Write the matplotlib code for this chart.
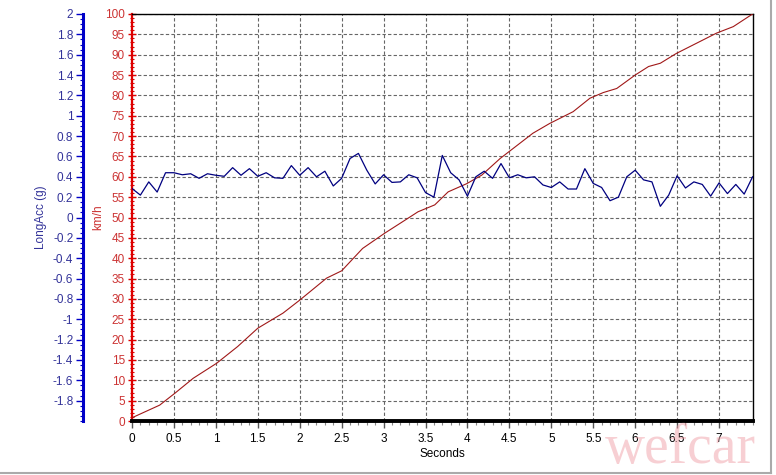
import numpy as np
import matplotlib
matplotlib.use('Agg')
import matplotlib.pyplot as plt
from matplotlib.ticker import MultipleLocator, FuncFormatter

plt.rcParams['font.family'] = ['Liberation Sans', 'DejaVu Sans']

# longitudinal acceleration, sampled every 0.1 s
acc_t = np.round(np.arange(0, 75) * 0.1, 1)
acc_g = [0.285, 0.22, 0.35, 0.25, 0.44, 0.44, 0.42, 0.43, 0.385, 0.43,
         0.415, 0.405, 0.49, 0.415, 0.48, 0.405, 0.44, 0.39, 0.385, 0.51,
         0.415, 0.49, 0.40, 0.455, 0.31, 0.385, 0.58, 0.63, 0.465, 0.33,
         0.42, 0.345, 0.35, 0.42, 0.39, 0.245, 0.20, 0.61, 0.44, 0.37,
         0.21, 0.40, 0.455, 0.385, 0.53, 0.39, 0.42, 0.39, 0.40, 0.32,
         0.295, 0.35, 0.28, 0.28, 0.48, 0.335, 0.295, 0.165, 0.20, 0.40,
         0.465, 0.37, 0.35, 0.11, 0.22, 0.41, 0.29, 0.35, 0.325, 0.21,
         0.34, 0.235, 0.325, 0.23, 0.40]

# speed trace
spd_t = [0, 0.33, 0.51, 0.73, 1.01, 1.26, 1.50, 1.80, 2.00, 2.32, 2.50, 2.75,
         3.01, 3.29, 3.41, 3.61, 3.77, 3.99, 4.17, 4.39, 4.78, 4.98, 5.26,
         5.46, 5.62, 5.78, 6.00, 6.16, 6.30, 6.49, 6.73, 6.97, 7.17, 7.40]
spd_kmh = [0.8, 3.9, 6.8, 10.5, 14.2, 18.3, 22.8, 26.5, 29.7, 35.1, 36.9, 42.4,
           46.1, 49.8, 51.4, 53.1, 56.3, 58.3, 60.4, 64.5, 70.7, 73.1, 76.0,
           79.3, 80.7, 81.7, 85.0, 87.1, 87.9, 90.3, 92.8, 95.3, 96.9, 100.0]

BLUE_AX = '#0000c8'
BLUE_TXT = '#333399'
RED_AX = '#dd0000'
RED_TXT = '#cc3333'

fmt = FuncFormatter(lambda v, p: '%g' % (round(v, 1) + 0.0))

fig = plt.figure(figsize=(7.76, 4.75), dpi=100)
ax = fig.add_axes([132/776, 1 - 421/475, (753 - 132)/776, (421 - 14)/475])

ax.plot(spd_t, spd_kmh, color='#a01818', lw=0.8, zorder=3)
ax.set_xlim(0, 7.405)
ax.set_ylim(0, 100)

ax.xaxis.set_major_locator(MultipleLocator(0.5))
ax.xaxis.set_minor_locator(MultipleLocator(0.1))
ax.xaxis.set_major_formatter(fmt)
ax.yaxis.set_major_locator(MultipleLocator(5))
ax.yaxis.set_minor_locator(MultipleLocator(1))
ax.grid(True, which='major', color='#666666', ls=(0, (3, 2)), lw=0.8)

ax.tick_params(axis='x', which='major', length=5, width=1, direction='out',
               labelsize=8.5, pad=4, color='#555555')
ax.tick_params(axis='x', which='minor', length=3, width=0.8, color='#888888')
ax.tick_params(axis='y', which='major', length=6, width=1, direction='inout',
               labelsize=8.5, colors=RED_AX, labelcolor=RED_TXT, pad=2)
ax.tick_params(axis='y', which='minor', length=3, width=0.8, direction='inout',
               colors=RED_AX)

ax.spines['left'].set_color(RED_AX)
ax.spines['left'].set_linewidth(1.6)
ax.spines['bottom'].set_linewidth(2.8)
ax.spines['top'].set_linewidth(1.0)
ax.spines['right'].set_linewidth(1.0)

ax.set_xlabel('Seconds', fontsize=8.5, labelpad=2)
ax.set_ylabel('km/h', fontsize=8.5, color=RED_TXT, labelpad=1)

# acceleration axis, placed outward on the left (49 px = 35.3 pt)
ax2 = ax.twinx()
ax2.plot(acc_t, acc_g, color='#000080', lw=0.9, zorder=4)
ax2.set_ylim(-2, 2)
ax2.yaxis.set_ticks_position('left')
ax2.yaxis.set_label_position('left')
ax2.spines['left'].set_position(('outward', 35.3))
ax2.spines['left'].set_visible(True)
ax2.spines['left'].set_color(BLUE_AX)
ax2.spines['left'].set_linewidth(2.2)
for s in ['right', 'top', 'bottom']:
    ax2.spines[s].set_visible(False)
ax2.set_yticks(np.round(np.arange(-1.8, 2.01, 0.2), 1))
ax2.yaxis.set_major_formatter(fmt)
ax2.yaxis.set_minor_locator(MultipleLocator(0.05))
ax2.tick_params(axis='y', which='major', length=5, width=1, direction='out',
                labelsize=8.5, colors=BLUE_AX, labelcolor=BLUE_TXT, pad=2)
ax2.tick_params(axis='y', which='minor', length=2, width=0.8, colors=BLUE_AX)
ax2.set_ylabel('LongAcc (g)', fontsize=8.5, color=BLUE_TXT, labelpad=4)

# watermark and window frame
fig.text(0.78, 0.025, 'wefcar', fontsize=40, color='#f0a0a8', alpha=0.5,
         family=['Liberation Serif', 'DejaVu Serif'], ha='left', va='baseline')
fig.add_artist(plt.Line2D([0, 0.994], [0.005, 0.005], color='#aaaaaa', lw=1.5))
fig.add_artist(plt.Line2D([0.994, 0.994], [0.005, 1], color='#aaaaaa', lw=1.5))

fig.savefig('out.png', dpi=100)
